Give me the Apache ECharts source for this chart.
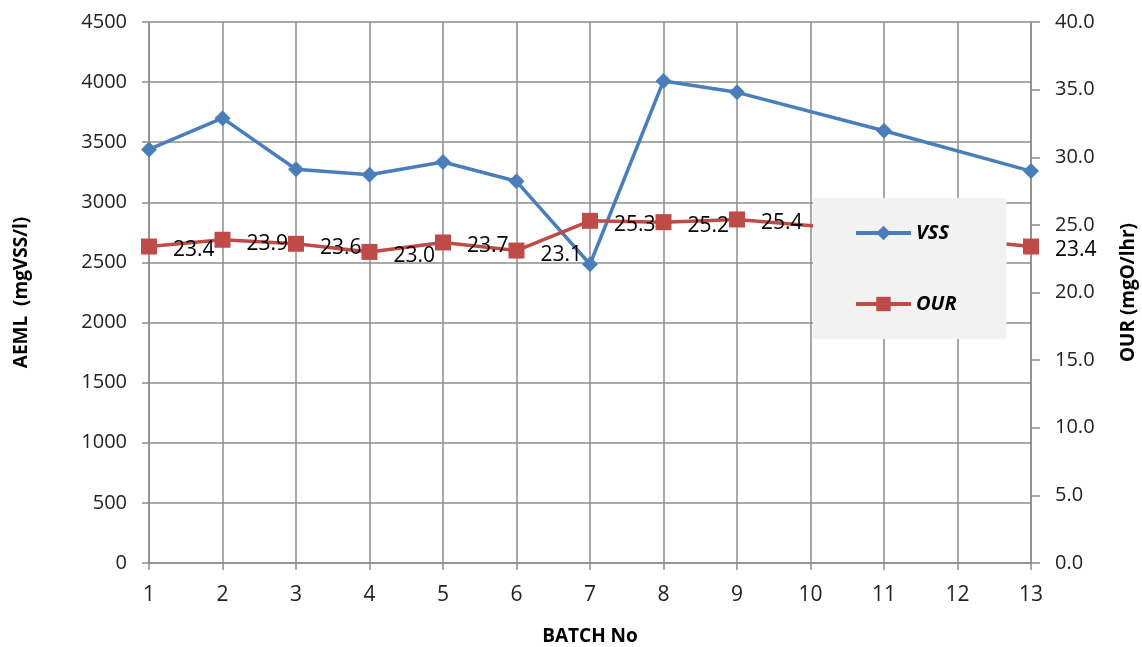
<!DOCTYPE html>
<html>
<head>
<meta charset="utf-8">
<script src="https://cdn.jsdelivr.net/npm/echarts@6/dist/echarts.min.js"></script>
<style>
  html, body { margin: 0; padding: 0; background: #fff; }
  #chart { width: 1142px; height: 647px; }
</style>
</head>
<body>
<div id="chart"></div>
<script>
var batches = ['1', '2', '3', '4', '5', '6', '7', '8', '9', '10', '11', '12', '13'];
// VSS, mgVSS/l (no points at 10 and 12)
var vss = [3440, 3700, 3275, 3230, 3335, 3175, 2485, 4010, 3915, null, 3595, null, 3260];
// OUR, mgO/lhr
var our = [23.4, 23.9, 23.6, 23.0, 23.7, 23.1, 25.3, 25.2, 25.4, null, 24.5, null, 23.4];

var chart = echarts.init(document.getElementById('chart'));
var grey = '#8c8c8c';
var tickFont = { color: '#222', fontSize: 20, fontFamily: 'Open Sans' };
var nameFont = { fontSize: 19, fontWeight: 'bold', color: '#000', fontFamily: 'Open Sans' };

var option = {
  animation: false,
  grid: { left: 149, right: 111, top: 22, bottom: 84, outerBoundsMode: 'none' },
  legend: {
    orient: 'vertical',
    left: 813,
    top: 198,
    padding: [25, 50, 25, 41],
    itemGap: 51,
    itemWidth: 55,
    itemHeight: 18,
    backgroundColor: '#f2f2f2',
    lineStyle: { width: 4 },
    textStyle: { fontSize: 20, fontWeight: 'bold', fontStyle: 'italic', color: '#000', fontFamily: 'Open Sans' },
    data: ['VSS', 'OUR']
  },
  xAxis: {
    type: 'category',
    data: batches,
    boundaryGap: false,
    name: 'BATCH No',
    nameLocation: 'middle',
    nameGap: 64,
    nameTextStyle: nameFont,
    axisLine: { lineStyle: { color: grey, width: 1.5 } },
    axisTick: { show: true, alignWithLabel: true, length: 7, lineStyle: { color: grey, width: 1.5 } },
    axisLabel: { color: '#222', fontSize: 21, fontFamily: 'Liberation Sans Narrow, Open Sans', margin: 22 },
    splitLine: { show: true, lineStyle: { color: grey, width: 1.5 } }
  },
  yAxis: [{
    type: 'value',
    min: 0,
    max: 4500,
    interval: 500,
    name: 'AEML  (mgVSS/l)',
    nameLocation: 'middle',
    nameGap: 118,
    nameTextStyle: nameFont,
    axisLine: { show: true, lineStyle: { color: grey, width: 1.5 } },
    axisTick: { show: true, length: 7, lineStyle: { color: grey, width: 1.5 } },
    axisLabel: Object.assign({ margin: 22, formatter: function (v) { return String(v); } }, tickFont),
    splitLine: { show: true, lineStyle: { color: grey, width: 1.5 } }
  }, {
    type: 'value',
    min: 0,
    max: 40,
    interval: 5,
    position: 'right',
    name: 'OUR (mgO/lhr)',
    nameLocation: 'middle',
    nameGap: 88,
    nameRotate: 90,
    nameTextStyle: nameFont,
    axisLine: { show: true, lineStyle: { color: grey, width: 1.5 } },
    axisTick: { show: true, length: 9, lineStyle: { color: grey, width: 1.5 } },
    axisLabel: Object.assign({ margin: 24, formatter: function (v) { return v.toFixed(1); } }, tickFont),
    splitLine: { show: false }
  }],
  series: [{
    name: 'VSS',
    type: 'line',
    yAxisIndex: 0,
    data: vss,
    connectNulls: true,
    symbol: 'diamond',
    symbolSize: 16,
    color: '#4a7ebb',
    lineStyle: { width: 3.5, color: '#4a7ebb' },
    itemStyle: { color: '#4a7ebb' }
  }, {
    name: 'OUR',
    type: 'line',
    yAxisIndex: 1,
    data: our,
    connectNulls: true,
    symbol: 'rect',
    symbolSize: 16,
    color: '#be4b48',
    lineStyle: { width: 3.5, color: '#be4b48' },
    itemStyle: { color: '#be4b48' },
    label: {
      show: true,
      position: 'right',
      distance: 16,
      offset: [0, 4],
      color: '#000',
      fontSize: 21,
      fontFamily: 'Open Sans',
      formatter: function (p) { return p.value.toFixed(1); }
    }
  }]
};

chart.setOption(option);
</script>
</body>
</html>
